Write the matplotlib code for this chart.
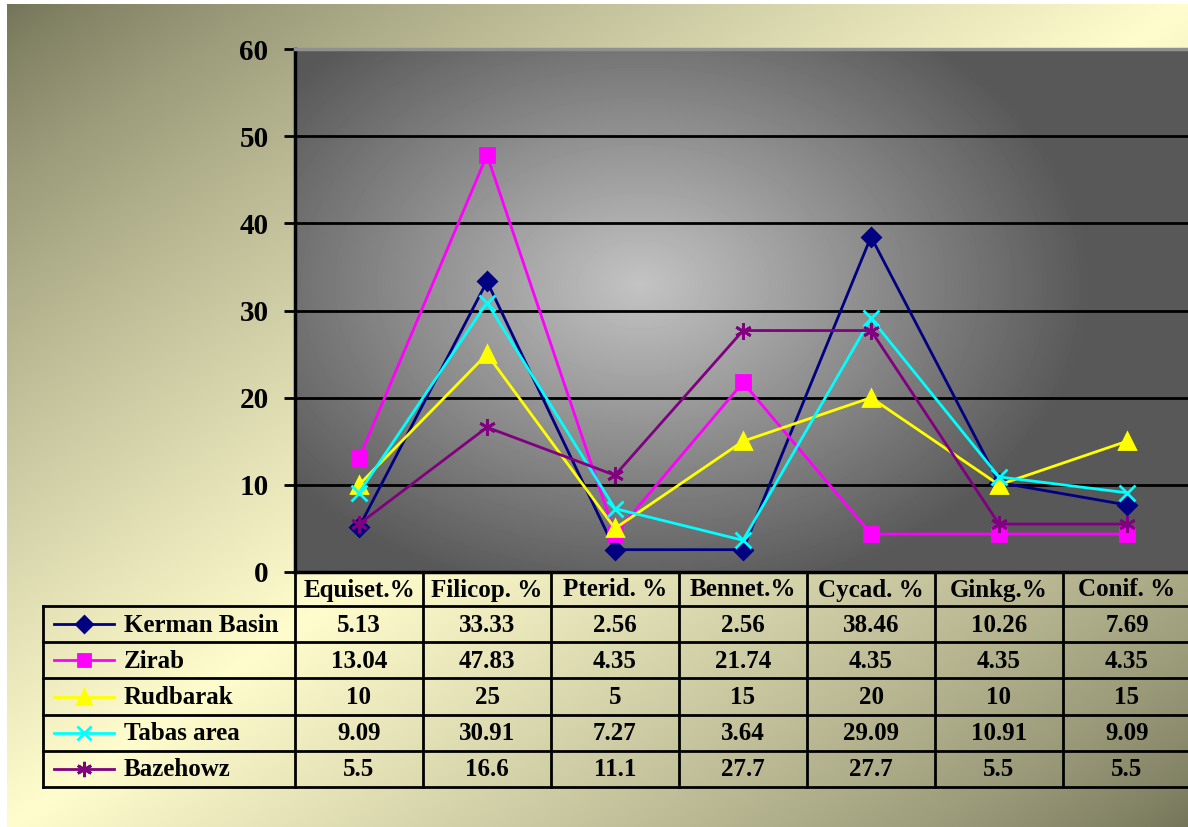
import numpy as np
import matplotlib.pyplot as plt
from matplotlib.lines import Line2D

# chart data
categories = ['Equiset.%', 'Filicop. %', 'Pterid. %', 'Bennet.%', 'Cycad. %', 'Ginkg.%', 'Conif. %']
series_names = ['Kerman Basin', 'Zirab', 'Rudbarak', 'Tabas area', 'Bazehowz']
kerman = [5.13, 33.33, 2.56, 2.56, 38.46, 10.26, 7.69]
zirab = [13.04, 47.83, 4.35, 21.74, 4.35, 4.35, 4.35]
rudbarak = [10, 25, 5, 15, 20, 10, 15]
tabas = [9.09, 30.91, 7.27, 3.64, 29.09, 10.91, 9.09]
bazehowz = [5.5, 16.6, 11.1, 27.7, 27.7, 5.5, 5.5]
series = [kerman, zirab, rudbarak, tabas, bazehowz]

# looks
colors = ['#000080', '#ff00ff', '#ffff00', '#00ffff', '#800080']
markers = ['D', 's', '^', 'x', (6, 2, 0)]
msizes = [9, 10, 11, 11, 12]

plt.rcParams['font.family'] = ['Liberation Serif', 'DejaVu Serif']
plt.rcParams['font.weight'] = 'bold'

W, H = 1188, 827
fig = plt.figure(figsize=(W / 100, H / 100), dpi=100)

# background gradient (pixel coords overlay)
bg = fig.add_axes([0, 0, 1, 1])
bg.set_xlim(0, W)
bg.set_ylim(H, 0)
bg.axis('off')
yy, xx = np.mgrid[0:H, 0:W]
t = (xx / W + yy / H) / 2
s = (1 - np.abs(2 * t - 1)) ** 0.8
dark = np.array([115, 115, 88])
light = np.array([255, 252, 205])
img = dark + (light - dark) * s[..., None]
bg.imshow(img / 255, extent=(7, W, H, 4), aspect='auto', zorder=0)

# plot area
x0, ytop, y0, colw = 295, 49, 572, 128
ax = fig.add_axes([x0 / W, (H - y0) / H, 7 * colw / W, (y0 - ytop) / H])
ax.set_xlim(-0.5, 6.5)
ax.set_ylim(0, 60)

ph, pw = y0 - ytop, 7 * colw
gy, gx = np.mgrid[0:ph, 0:pw]
d = np.sqrt(((gx - 345) / 450) ** 2 + ((gy - 235) / 320) ** 2)
v = 88 + (195 - 88) * np.clip(1 - d, 0, 1) ** 1.0
ax.imshow(v, cmap='gray', vmin=0, vmax=255, extent=(-0.5, 6.5, 0, 60),
          aspect='auto', zorder=0, interpolation='bilinear')

ax.set_yticks(range(0, 61, 10))
ax.set_xticks([])
ax.yaxis.grid(True, color='black', lw=2)
ax.tick_params(axis='y', direction='out', length=8, width=2, pad=11, labelsize=21)
for lab in ax.get_yticklabels():
    lab.set_fontweight('bold')
ax.spines['left'].set_linewidth(2.5)
ax.spines['bottom'].set_linewidth(2.5)
ax.spines['top'].set_color('#909090')
ax.spines['top'].set_linewidth(2.5)
ax.spines['right'].set_visible(False)

xs = np.arange(len(categories))
for vals, c, m, ms in zip(series, colors, markers, msizes):
    ax.plot(xs, vals, color=c, lw=2, marker=m, ms=ms, mfc=c, mec=c, mew=2, clip_on=False)

# data table
col_edges = [x0 + colw * i for i in range(8)]
row_edges = [606 + 36.2 * i for i in range(6)]
tleft = 43
right = col_edges[-1]
for y in row_edges:
    bg.plot([tleft, right], [y, y], color='black', lw=2, solid_capstyle='projecting')
bg.plot([tleft, tleft], [row_edges[0], row_edges[-1]], color='black', lw=2)
for xe in col_edges:
    bg.plot([xe, xe], [y0, row_edges[-1]], color='black', lw=2)

fs = 18
for i, cat in enumerate(categories):
    bg.text(col_edges[i] + colw / 2, (y0 + row_edges[0]) / 2 + 1, cat, ha='center',
            va='center', fontsize=fs, fontweight='bold')

for r, (name, vals) in enumerate(zip(series_names, series)):
    yc = (row_edges[r] + row_edges[r + 1]) / 2
    bg.add_line(Line2D([54, 114], [yc, yc], color=colors[r], lw=2))
    bg.add_line(Line2D([84], [yc], color=colors[r], marker=markers[r], ms=msizes[r] - 1,
                       mfc=colors[r], mec=colors[r], mew=2))
    bg.text(124, yc + 1, name, ha='left', va='center', fontsize=fs, fontweight='bold')
    for i, val in enumerate(vals):
        bg.text(col_edges[i] + colw / 2, yc + 1, f'{val:g}', ha='center', va='center',
                fontsize=fs, fontweight='bold')

fig.savefig('out.png', dpi=100)
